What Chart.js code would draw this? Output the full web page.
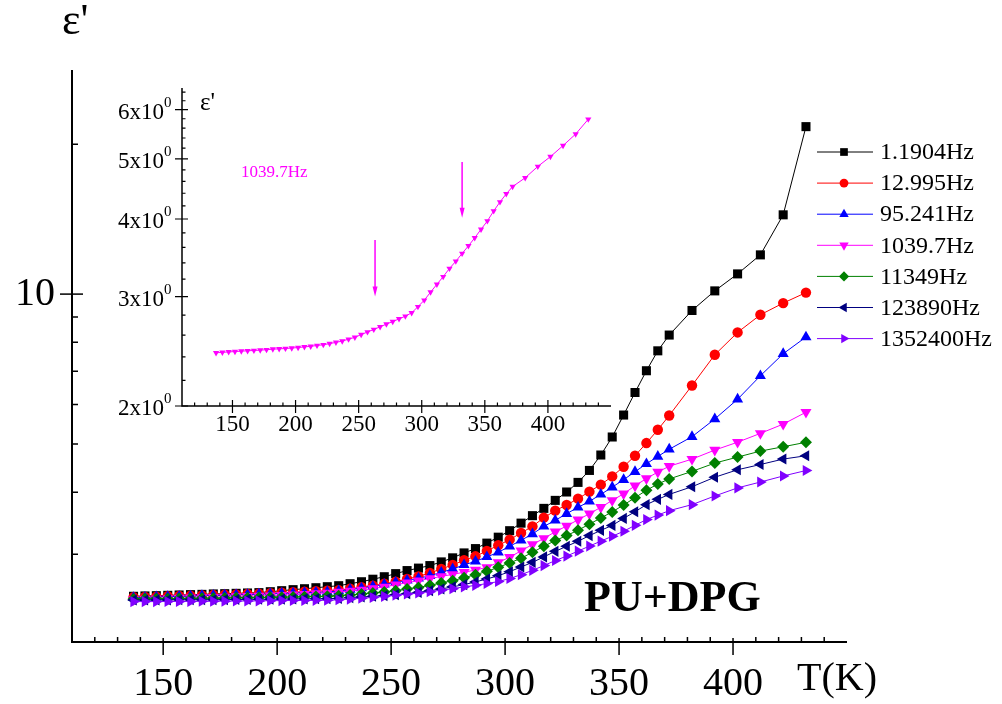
<!DOCTYPE html>
<html>
<head>
<meta charset="utf-8">
<script src="https://cdn.jsdelivr.net/npm/chart.js@4.4.1/dist/chart.umd.min.js"></script>
<style>
  body { margin: 0; background: #fff; }
  #wrap { position: relative; width: 1002px; height: 704px; }
  canvas { position: absolute; }
  #main { left: 0; top: 0; }
  #inset { left: 100px; top: 60px; }
</style>
</head>
<body>
<div id="wrap">
  <canvas id="main" width="1002" height="704"></canvas>
  <canvas id="inset" width="540" height="390"></canvas>
</div>
<script>
// temperature, K
const temps = [137, 142, 147, 152, 157, 162, 167, 172, 177, 182, 187, 192, 197, 202, 207, 212, 217, 222,
  227, 232, 237, 242, 247, 252, 257, 262, 267, 272, 277, 282, 287, 292, 297, 302, 307, 312, 317, 322,
  327, 332, 337, 342, 347, 352, 357, 362, 367, 372, 382, 392, 402, 412, 422, 432];

// epsilon' for each frequency
const eps1_1904 = [2.471, 2.475, 2.478, 2.482, 2.486, 2.490, 2.493, 2.498, 2.501, 2.505, 2.509, 2.513, 2.524, 2.536, 2.548, 2.559, 2.571, 2.583,
  2.595, 2.619, 2.643, 2.674, 2.705, 2.744, 2.783, 2.815, 2.848, 2.897, 2.952, 3.020, 3.081, 3.160, 3.248, 3.347, 3.466, 3.588, 3.711, 3.851,
  4.003, 4.185, 4.423, 4.750, 5.163, 5.715, 6.343, 7.015, 7.692, 8.274, 9.270, 10.15, 10.98, 11.99, 14.43, 21.70];
const eps12_995 = [2.461, 2.464, 2.467, 2.471, 2.474, 2.478, 2.482, 2.485, 2.490, 2.493, 2.498, 2.501, 2.507, 2.513, 2.518, 2.524, 2.530, 2.536,
  2.542, 2.559, 2.577, 2.595, 2.619, 2.643, 2.677, 2.709, 2.753, 2.804, 2.857, 2.919, 2.973, 3.048, 3.128, 3.211, 3.312, 3.414, 3.555, 3.672,
  3.770, 3.882, 4.009, 4.142, 4.303, 4.500, 4.734, 5.020, 5.339, 5.703, 6.553, 7.552, 8.375, 9.088, 9.592, 10.07];
const eps95_241 = [2.456, 2.459, 2.463, 2.466, 2.470, 2.473, 2.477, 2.480, 2.484, 2.487, 2.490, 2.495, 2.499, 2.504, 2.508, 2.513, 2.516, 2.521,
  2.532, 2.548, 2.567, 2.587, 2.611, 2.635, 2.660, 2.684, 2.718, 2.761, 2.804, 2.857, 2.905, 2.965, 3.028, 3.114, 3.201, 3.297, 3.414, 3.511,
  3.621, 3.728, 3.833, 3.959, 4.093, 4.238, 4.396, 4.561, 4.718, 4.878, 5.170, 5.611, 6.148, 6.853, 7.588, 8.199];
const eps1039_7 = [2.436, 2.440, 2.444, 2.447, 2.451, 2.454, 2.457, 2.460, 2.464, 2.469, 2.472, 2.475, 2.479, 2.484, 2.490, 2.495, 2.503, 2.510,
  2.520, 2.532, 2.544, 2.562, 2.580, 2.606, 2.631, 2.656, 2.682, 2.709, 2.735, 2.762, 2.790, 2.825, 2.890, 2.960, 3.050, 3.140, 3.230, 3.330,
  3.420, 3.520, 3.620, 3.730, 3.850, 3.970, 4.120, 4.260, 4.390, 4.510, 4.660, 4.860, 5.040, 5.250, 5.480, 5.790];
const eps11349 = [2.441, 2.442, 2.443, 2.444, 2.445, 2.446, 2.449, 2.450, 2.451, 2.453, 2.455, 2.457, 2.459, 2.461, 2.464, 2.466, 2.468, 2.471,
  2.478, 2.486, 2.498, 2.509, 2.521, 2.536, 2.556, 2.575, 2.599, 2.628, 2.656, 2.693, 2.731, 2.773, 2.825, 2.883, 2.946, 3.028, 3.114, 3.197,
  3.272, 3.355, 3.450, 3.550, 3.651, 3.770, 3.899, 4.035, 4.154, 4.252, 4.403, 4.576, 4.705, 4.837, 4.935, 5.038];
const eps123890 = [2.429, 2.429, 2.430, 2.430, 2.431, 2.431, 2.432, 2.432, 2.433, 2.434, 2.436, 2.437, 2.438, 2.439, 2.441, 2.442, 2.443, 2.444,
  2.447, 2.456, 2.464, 2.471, 2.478, 2.490, 2.501, 2.516, 2.536, 2.556, 2.581, 2.608, 2.641, 2.677, 2.718, 2.769, 2.830, 2.891, 2.965, 3.042,
  3.114, 3.187, 3.272, 3.352, 3.430, 3.543, 3.654, 3.776, 3.869, 3.959, 4.102, 4.286, 4.437, 4.546, 4.662, 4.734];
const eps1352400 = [2.411, 2.411, 2.411, 2.412, 2.413, 2.413, 2.414, 2.415, 2.416, 2.417, 2.418, 2.419, 2.421, 2.422, 2.423, 2.424, 2.425, 2.426,
  2.431, 2.439, 2.449, 2.458, 2.470, 2.483, 2.497, 2.509, 2.524, 2.542, 2.559, 2.581, 2.599, 2.621, 2.645, 2.682, 2.731, 2.786, 2.848, 2.915,
  2.976, 3.045, 3.117, 3.189, 3.262, 3.338, 3.431, 3.523, 3.597, 3.672, 3.776, 3.930, 4.080, 4.192, 4.311, 4.421];

const seriesNames = ['1.1904Hz', '12.995Hz', '95.241Hz', '1039.7Hz', '11349Hz', '123890Hz', '1352400Hz'];
const seriesValues = [eps1_1904, eps12_995, eps95_241, eps1039_7, eps11349, eps123890, eps1352400];
const seriesColors = ['#000000', '#ff0000', '#0000ff', '#ff00ff', '#008000', '#000080', '#8000ff'];
const markerStyles = ['rect', 'circle', 'triangle', 'triangle', 'rectRot', 'triangle', 'triangle'];
const markerRotations = [0, 0, 0, 180, 0, 270, 90];
const markerRadius = [6.4, 5.2, 6.4, 6.4, 6, 6.4, 6.4];

// axis ticks
const mainXMajor = [150, 200, 250, 300, 350, 400];
const mainXMinor = [120, 130, 140, 160, 170, 180, 190, 210, 220, 230, 240, 260, 270, 280, 290, 310, 320, 330, 340, 360, 370, 380, 390, 410, 420, 430, 440];
const mainYMajor = [10];
const mainYMinor = [3, 4, 5, 6, 7, 8, 9, 20];
const insetXMajor = [150, 200, 250, 300, 350, 400];
const insetYMajor = [2, 3, 4, 5, 6];
const insetYMinor = [2.2, 2.4, 2.6, 2.8, 3.2, 3.4, 3.6, 3.8, 4.2, 4.4, 4.6, 4.8, 5.2, 5.4, 5.6, 5.8, 6.2, 6.4];

// arrows in the inset (T, from eps', to eps')
const arrowT = [263, 332];
const arrowFrom = [3.70, 4.94];
const arrowTo = [3.0, 4.02];

const serif = '"Liberation Serif", "Times New Roman", serif';

function tickMarks(ctx, scale, values, axis, inLen, outLen, horizontal) {
  ctx.beginPath();
  values.forEach(v => {
    const p = scale.getPixelForValue(v);
    if (horizontal) {
      ctx.moveTo(p, axis - inLen);
      ctx.lineTo(p, axis + outLen);
    } else {
      ctx.moveTo(axis + inLen, p);
      ctx.lineTo(axis - outLen, p);
    }
  });
  ctx.stroke();
}

const mainDecor = {
  id: 'mainDecor',
  afterDraw(chart) {
    const { ctx, chartArea: a, scales: { x, y } } = chart;
    ctx.save();
    ctx.strokeStyle = '#000';
    ctx.lineWidth = 2;
    ctx.beginPath();
    ctx.moveTo(a.left, a.top);
    ctx.lineTo(a.left, a.bottom);
    ctx.lineTo(a.right, a.bottom);
    ctx.stroke();
    ctx.lineWidth = 1.5;
    tickMarks(ctx, x, mainXMajor, a.bottom, 4, 13, true);
    tickMarks(ctx, x, mainXMinor, a.bottom, 5, 0, true);
    tickMarks(ctx, y, mainYMajor, a.left, 11, 12, false);
    tickMarks(ctx, y, mainYMinor, a.left, 6, 0, false);

    ctx.fillStyle = '#000';
    ctx.font = '40px ' + serif;
    ctx.textAlign = 'center';
    ctx.textBaseline = 'alphabetic';
    mainXMajor.forEach(v => ctx.fillText(String(v), x.getPixelForValue(v), 695));
    ctx.textAlign = 'left';
    ctx.fillText('T(K)', 797, 690);
    ctx.textAlign = 'right';
    ctx.textBaseline = 'middle';
    mainYMajor.forEach(v => ctx.fillText(String(v), 55, y.getPixelForValue(v)));
    ctx.textAlign = 'left';
    ctx.textBaseline = 'alphabetic';
    ctx.font = '44px ' + serif;
    ctx.fillText('\u03b5\'', 62, 34);
    ctx.font = 'bold 44px ' + serif;
    ctx.fillText('PU+DPG', 584, 611);

    // legend
    ctx.font = '24px ' + serif;
    ctx.textBaseline = 'middle';
    seriesNames.forEach((name, i) => {
      const ly = 152 + i * 31.1;
      ctx.strokeStyle = seriesColors[i];
      ctx.lineWidth = 1;
      ctx.beginPath();
      ctx.moveTo(817, ly);
      ctx.lineTo(873, ly);
      ctx.stroke();
      ctx.fillStyle = seriesColors[i];
      Chart.helpers.drawPoint(ctx, {
        pointStyle: markerStyles[i], rotation: markerRotations[i],
        radius: markerRadius[i] * 0.85, borderWidth: 0
      }, 844, ly);
      ctx.fillStyle = '#000';
      ctx.fillText(name, 880, ly + 1);
    });
    ctx.restore();
  }
};

const insetDecor = {
  id: 'insetDecor',
  afterDraw(chart) {
    const { ctx, chartArea: a, scales: { x, y } } = chart;
    ctx.save();
    ctx.strokeStyle = '#000';
    ctx.lineWidth = 1.5;
    ctx.beginPath();
    ctx.moveTo(a.left, a.top);
    ctx.lineTo(a.left, a.bottom);
    ctx.lineTo(a.right, a.bottom);
    ctx.stroke();
    ctx.lineWidth = 1.2;
    tickMarks(ctx, x, insetXMajor, a.bottom, 6, 7, true);
    tickMarks(ctx, x, mainXMinor, a.bottom, 3.5, 0, true);
    tickMarks(ctx, y, insetYMajor, a.left, 6, 7, false);
    tickMarks(ctx, y, insetYMinor, a.left, 3.5, 0, false);

    ctx.fillStyle = '#000';
    ctx.font = '23px ' + serif;
    ctx.textAlign = 'center';
    ctx.textBaseline = 'alphabetic';
    insetXMajor.forEach(v => ctx.fillText(String(v), x.getPixelForValue(v), a.bottom + 25));
    insetYMajor.forEach(v => {
      const py = y.getPixelForValue(v);
      ctx.font = '23px ' + serif;
      ctx.textAlign = 'right';
      ctx.fillText(v + 'x10', a.left - 18, py + 9);
      ctx.font = '15px ' + serif;
      ctx.textAlign = 'left';
      ctx.fillText('0', a.left - 18, py - 3);
    });
    ctx.font = '25px ' + serif;
    ctx.textAlign = 'left';
    ctx.fillText('\u03b5\'', a.left + 18, a.top + 22);

    ctx.fillStyle = '#ff00ff';
    ctx.font = '17px ' + serif;
    ctx.fillText('1039.7Hz', a.left + 59, a.top + 89);

    // arrows
    ctx.strokeStyle = '#ff00ff';
    ctx.lineWidth = 1.5;
    arrowT.forEach((t, i) => {
      const px = x.getPixelForValue(t);
      const y1 = y.getPixelForValue(arrowFrom[i]);
      const y2 = y.getPixelForValue(arrowTo[i]);
      ctx.beginPath();
      ctx.moveTo(px, y1);
      ctx.lineTo(px, y2 - 6);
      ctx.stroke();
      ctx.beginPath();
      ctx.moveTo(px - 2.5, y2 - 10);
      ctx.lineTo(px + 2.5, y2 - 10);
      ctx.lineTo(px, y2);
      ctx.closePath();
      ctx.fill();
    });
    ctx.restore();
  }
};

const mainDatasets = seriesValues.map((vals, i) => ({
  label: seriesNames[i],
  data: temps.map((t, j) => ({ x: t, y: vals[j] })),
  borderColor: seriesColors[i],
  backgroundColor: seriesColors[i],
  borderWidth: 1,
  pointStyle: markerStyles[i],
  rotation: markerRotations[i],
  pointRadius: markerRadius[i],
  pointBorderWidth: 0,
  pointBackgroundColor: seriesColors[i],
  tension: 0,
  order: seriesValues.length - 1 - i
}));

new Chart(document.getElementById('main'), {
  type: 'line',
  data: { datasets: mainDatasets },
  options: {
    responsive: false,
    animation: false,
    devicePixelRatio: 1,
    layout: { padding: { left: 72, top: 70, right: 155, bottom: 62 } },
    plugins: { legend: { display: false }, tooltip: { enabled: false } },
    scales: {
      x: { type: 'linear', min: 110, max: 450, display: false },
      y: { type: 'logarithmic', min: 2, max: 28.2, display: false }
    }
  },
  plugins: [mainDecor]
});

new Chart(document.getElementById('inset'), {
  type: 'line',
  data: {
    datasets: [{
      label: seriesNames[3],
      data: temps.map((t, j) => ({ x: t, y: eps1039_7[j] })),
      borderColor: seriesColors[3],
      backgroundColor: seriesColors[3],
      borderWidth: 1,
      pointStyle: 'triangle',
      rotation: 180,
      pointRadius: 3.6,
      pointBorderWidth: 0,
      tension: 0
    }]
  },
  options: {
    responsive: false,
    animation: false,
    devicePixelRatio: 1,
    layout: { padding: { left: 82, top: 28, right: 29, bottom: 44 } },
    plugins: { legend: { display: false }, tooltip: { enabled: false } },
    scales: {
      x: { type: 'linear', min: 110, max: 450, display: false },
      y: { type: 'logarithmic', min: 2, max: 6.5, display: false }
    }
  },
  plugins: [insetDecor]
});
</script>
</body>
</html>
